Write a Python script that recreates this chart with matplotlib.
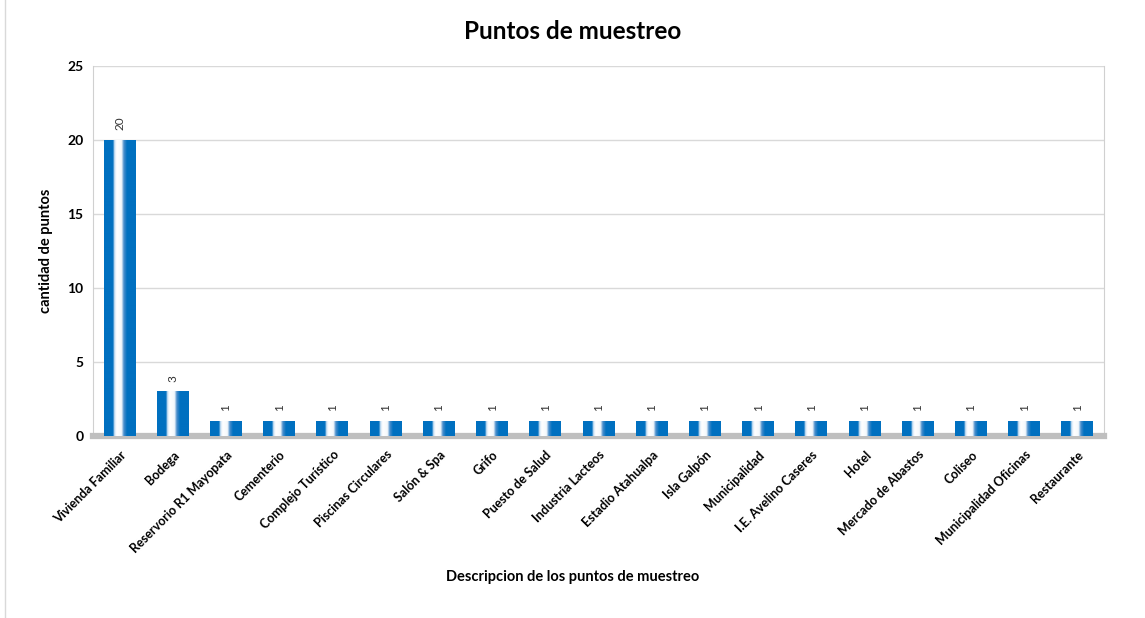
import numpy as np
import matplotlib
matplotlib.use("Agg")
import matplotlib.pyplot as plt
from matplotlib.colors import LinearSegmentedColormap

categories = ["Vivienda Familiar", "Bodega", "Reservorio R1 Mayopata", "Cementerio",
              "Complejo Turístico", "Piscinas Circulares", "Salón & Spa", "Grifo",
              "Puesto de Salud", "Industria Lacteos", "Estadio Atahualpa", "Isla Galpón",
              "Municipalidad", "I.E. Avelino Caseres", "Hotel", "Mercado de Abastos",
              "Coliseo", "Municipalidad Oficinas", "Restaurante"]
values = [20, 3, 1, 1, 1, 1, 1, 1, 1, 1, 1, 1, 1, 1, 1, 1, 1, 1, 1]
yticks = [0, 5, 10, 15, 20, 25]

plt.rcParams['font.family'] = ['Lato', 'DejaVu Sans']

fig = plt.figure(figsize=(11.45, 6.18), dpi=100)
ax = fig.add_axes([0.0812, 0.2945, 0.883, 0.5985])

x = np.arange(len(categories))
bars = ax.bar(x, values, width=0.6, color='#0070C0', zorder=2)

cmap = LinearSegmentedColormap.from_list('g', [
    (0.0, '#0070C0'), (0.28, '#0070C0'), (0.33, '#cfe3f5'), (0.40, '#ffffff'),
    (0.55, '#f4f8fc'), (0.62, '#4d8fcc'), (0.72, '#0070C0'), (1.0, '#0070C0')])
grad = np.linspace(0, 1, 256).reshape(1, -1)
for b in bars:
    x0, w, h = b.get_x(), b.get_width(), b.get_height()
    ax.imshow(grad, extent=(x0, x0 + w, 0, h), aspect='auto', cmap=cmap, zorder=3,
              interpolation='bilinear')
    ax.annotate(f"{h:g}", (x0 + w / 2, h), xytext=(0, 7), textcoords='offset points',
                rotation=90, ha='center', va='bottom', fontsize=8.5, color='#333333',
                zorder=4)

ax.set_xlim(-0.5, len(categories) - 0.5)
ax.set_ylim(0, 25)
ax.set_yticks(yticks)
ax.set_yticklabels([str(t) for t in yticks], fontsize=10, fontweight='bold')
ax.set_xticks(x)
ax.set_xticklabels(categories, rotation=45, ha='right', rotation_mode='anchor',
                   fontsize=9, fontweight='bold')
ax.tick_params(axis='both', length=0, pad=7)
ax.tick_params(axis='x', pad=9)
ax.grid(axis='y', color='#d9d9d9', linewidth=1, zorder=0)
ax.set_axisbelow(True)
for s in ['left', 'right', 'top']:
    ax.spines[s].set_color('#d0d0d0')
ax.spines['top'].set_visible(False)
ax.spines['bottom'].set_color('#bfbfbf')
ax.spines['bottom'].set_linewidth(4.5)

ax.set_ylabel("cantidad de puntos", fontsize=10.5, fontweight='bold', labelpad=10)
fig.text(0.5, 0.06, "Descripcion de los puntos de muestreo", ha='center',
         fontsize=10.5, fontweight='bold')
fig.text(0.5, 0.937, "Puntos de muestreo", ha='center', fontsize=17.5, fontweight='bold')

fig.patches.append(plt.Rectangle((0.004, -0.01), 2, 2, transform=fig.transFigure,
                                 fill=False, edgecolor='#d9d9d9', linewidth=1))

fig.savefig("out.png", dpi=100)
